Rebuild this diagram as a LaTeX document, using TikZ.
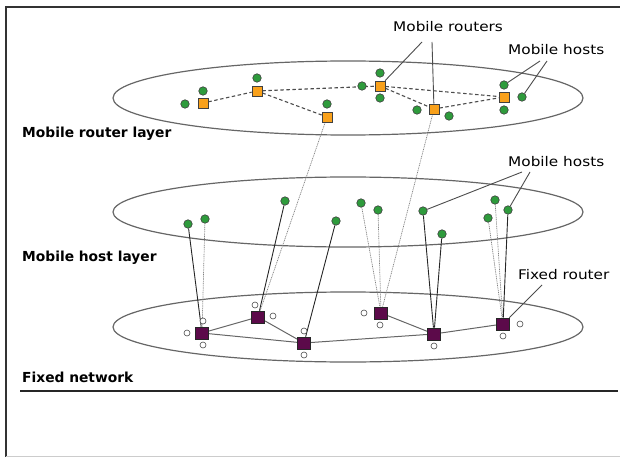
\documentclass[tikz,border=0pt]{standalone}
\usepackage{fontspec}
\usetikzlibrary{backgrounds}
\newfontfamily\lblfont{DejaVu Sans}
\definecolor{morange}{HTML}{F9A11B}
\definecolor{mgreen}{HTML}{2E9B3C}
\definecolor{fpurple}{HTML}{5C0A4A}
\newcommand\reglbl[1]{\scalebox{1.15}[1]{\lblfont\fontsize{13.3}{15}\selectfont #1}}
\newcommand\boldlbl[1]{{\lblfont\bfseries\fontsize{13.8}{16}\selectfont #1}}
\begin{document}
\begin{tikzpicture}[x=1pt,y=-1pt,
  layer/.style={draw=black!60, line width=1.2pt},
  mrouter/.style={rectangle, minimum size=10pt, inner sep=0pt, fill=morange, draw=black!75, line width=0.7pt},
  mhost/.style={circle, minimum width=8.5pt, minimum height=8pt, inner sep=0pt, fill=mgreen, draw=black!75, line width=0.6pt},
  frouter/.style={rectangle, minimum width=13pt, minimum height=12pt, inner sep=0pt, fill=fpurple, draw=black!85, line width=0.6pt},
  wcirc/.style={circle, minimum size=6pt, inner sep=0pt, fill=white, draw=black!70, line width=0.6pt},
  mlink/.style={draw=black!70, line width=1.1pt, dash pattern=on 3.5pt off 2.5pt},
  solidlink/.style={draw=black!85, line width=0.9pt},
  dotlink/.style={draw=black!50, line width=0.7pt, dash pattern=on 1pt off 0.8pt},
  flink/.style={draw=black!60, line width=1pt},
  leader/.style={draw=black!70, line width=0.9pt},
  txt/.style={inner sep=0pt, anchor=base west}]
\useasboundingbox (0,0) rectangle (620,457);
% layer labels
\node[txt] (lab1) at (22,138) {\boldlbl{Mobile router layer}};
\node[txt] (lab2) at (22,261) {\boldlbl{Mobile host layer}};
\node[txt] (lab3) at (22,382) {\boldlbl{Fixed network}};
% top layer routers
\node[mrouter] (r1) at (203,103) {};
\node[mrouter] (r2) at (257,91) {};
\node[mrouter] (r3) at (327,117) {};
\node[mrouter] (r4) at (380,86) {};
\node[mrouter] (r5) at (434,109) {};
\node[mrouter] (r6) at (504,97) {};
% top layer hosts
\node[mhost] (t1a) at (203,91) {};
\node[mhost] (t1b) at (185,104) {};
\node[mhost] (t2a) at (257,78) {};
\node[mhost] (t3a) at (327,104) {};
\node[mhost] (t4a) at (380,73) {};
\node[mhost] (t4b) at (380,98) {};
\node[mhost] (t4c) at (362,86) {};
\node[mhost] (t5a) at (417,110) {};
\node[mhost] (t5b) at (449,116) {};
\node[mhost] (t6a) at (504,85) {};
\node[mhost] (t6b) at (504,110) {};
\node[mhost] (t6c) at (522,97) {};
% middle hosts
\node[mhost] (h1) at (188,224) {};
\node[mhost] (h2) at (205,219) {};
\node[mhost] (h3) at (285,201) {};
\node[mhost] (h4) at (336,221) {};
\node[mhost] (h5) at (361,203) {};
\node[mhost] (h6) at (378,210) {};
\node[mhost] (h7) at (423,211) {};
\node[mhost] (h8) at (442,234) {};
\node[mhost] (h9) at (495,200) {};
\node[mhost] (h10) at (488,218) {};
\node[mhost] (h11) at (508,210) {};
% fixed routers
\node[frouter] (f1) at (202,333) {};
\node[frouter] (f2) at (258,317) {};
\node[frouter] (f3) at (304,343) {};
\node[frouter] (f4) at (381,313) {};
\node[frouter] (f5) at (434,334) {};
\node[frouter] (f6) at (503,324) {};
% white circles
\node[wcirc] (w1a) at (203,321) {};
\node[wcirc] (w1b) at (187,333) {};
\node[wcirc] (w1c) at (203,345) {};
\node[wcirc] (w2a) at (255,305) {};
\node[wcirc] (w2b) at (273,316) {};
\node[wcirc] (w3a) at (304,331) {};
\node[wcirc] (w3b) at (304,355) {};
\node[wcirc] (w4a) at (364,313) {};
\node[wcirc] (w4b) at (380,325) {};
\node[wcirc] (w5a) at (434,346) {};
\node[wcirc] (w6a) at (520,324) {};
\node[wcirc] (w6b) at (503,336) {};
% text labels
\node[txt] (lmr) at (393,32) {\reglbl{Mobile routers}};
\node[txt] (lmh1) at (508,55) {\reglbl{Mobile hosts}};
\node[txt] (lmh2) at (508,166) {\reglbl{Mobile hosts}};
\node[txt] (lfr) at (518,279) {\reglbl{Fixed router}};
% leaders
\coordinate (c1) at (422,42);
\coordinate (c2) at (432,42);
\coordinate (c3) at (540,61);
\coordinate (c4) at (547,61);
\coordinate (c5) at (522,172);
\coordinate (c6) at (530,172);
\coordinate (c7) at (542,285);
\draw[leader] (c1) -- (r4);
\draw[leader] (c2) -- (r5);
\draw[leader] (c3) -- (t6a);
\draw[leader] (c4) -- (t6c);
\draw[leader] (c5) -- (h7);
\draw[leader] (c6) -- (h11);
\draw[leader] (c7) -- (f6);
\begin{scope}[on background layer]
% frame
\draw[black!80, line width=1.5pt] (620,7) -- (6,7) -- (6,457);
\draw[black!20, line width=0.8pt] (6,456) -- (620,456);
\draw[black!85, line width=1.5pt] (20,391) -- (618,391);
% layers
\draw[layer] (348,98) ellipse [x radius=235, y radius=37];
\draw[layer] (348,212) ellipse [x radius=235, y radius=35];
\draw[layer] (348,327) ellipse [x radius=235, y radius=35];
% links between layers
\draw[dotlink] (r3) -- (f2);
\draw[dotlink] (r5) -- (f4);
\draw[solidlink] (h1) -- (f1);
\draw[dotlink] (h2) -- (f1);
\draw[solidlink] (h3) -- (f2);
\draw[solidlink] (h4) -- (f3);
\draw[dotlink] (h5) -- (f4);
\draw[dotlink] (h6) -- (f4);
\draw[solidlink] (h7) -- (f5);
\draw[solidlink] (h8) -- (f5);
\draw[dotlink] (h9) -- (f6);
\draw[dotlink] (h10) -- (f6);
\draw[solidlink] (h11) -- (f6);
% fixed links
\draw[flink] (f1) -- (f2);
\draw[flink] (f1) -- (f3);
\draw[flink] (f2) -- (f3);
\draw[flink] (f3) -- (f5);
\draw[flink] (f4) -- (f5);
\draw[flink] (f5) -- (f6);
% mobile router links
\draw[mlink] (r1) -- (r2);
\draw[mlink] (r2) -- (r3);
\draw[mlink] (r2) -- (r4);
\draw[mlink] (r4) -- (r5);
\draw[mlink] (r4) -- (r6);
\draw[mlink] (r5) -- (r6);
\end{scope}
\end{tikzpicture}
\end{document}
